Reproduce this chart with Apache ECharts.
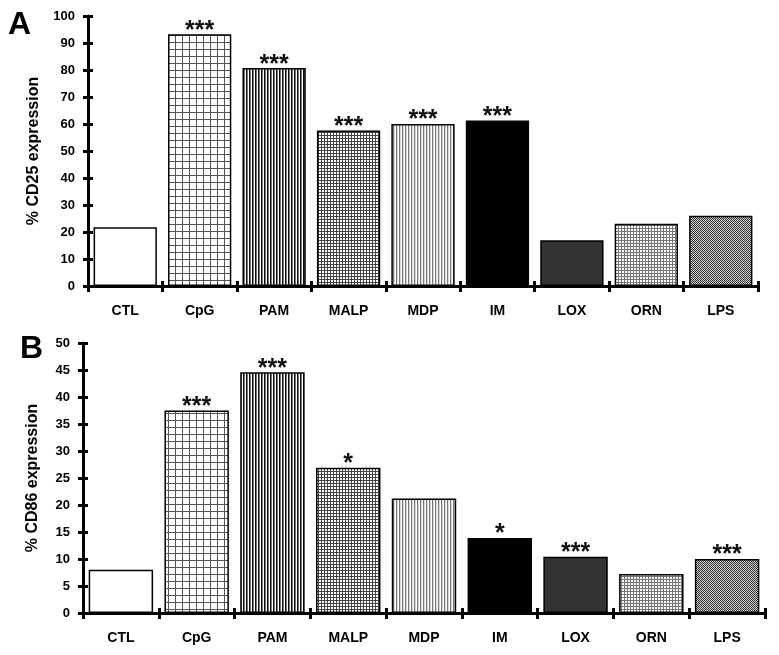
<!DOCTYPE html>
<html>
<head>
<meta charset="utf-8">
<script src="https://cdn.jsdelivr.net/npm/echarts@6/dist/echarts.min.js"></script>
<style>
html,body{margin:0;padding:0;background:#fff;}
#chart{width:779px;height:655px;}
</style>
</head>
<body>
<div id="chart"></div>
<script>
// ---- data ----
const categories = ['CTL', 'CpG', 'PAM', 'MALP', 'MDP', 'IM', 'LOX', 'ORN', 'LPS'];
const cd25Values = [21.8, 93.2, 80.7, 57.6, 60.0, 61.3, 16.9, 23.1, 26.0];
const cd86Values = [8.0, 37.5, 44.6, 26.9, 21.2, 13.9, 10.4, 7.2, 10.0];
const cd25Sig = ['', '***', '***', '***', '***', '***', '', '', ''];
const cd86Sig = ['', '***', '***', '*', '', '*', '***', '', '***'];
const cd25Ticks = { min: 0, max: 100, interval: 10 };
const cd86Ticks = { min: 0, max: 50, interval: 5 };
const panelLetters = ['A', 'B'];
const yNames = ['% CD25 expression', '% CD86 expression'];

// ---- fill patterns (one per category) ----
function pattern(w, h, draw) {
  const c = document.createElement('canvas');
  c.width = w; c.height = h;
  const ctx = c.getContext('2d');
  ctx.fillStyle = '#fff';
  ctx.fillRect(0, 0, w, h);
  draw(ctx);
  return { image: c, repeat: 'repeat' };
}
function px(ctx, x, y, w, h, col) { ctx.fillStyle = col; ctx.fillRect(x, y, w, h); }
const fills = [
  '#ffffff',
  pattern(7, 7, ctx => { px(ctx, 0, 0, 1, 7, '#555'); px(ctx, 0, 0, 7, 1, '#555'); }),
  pattern(3, 3, ctx => { px(ctx, 0, 0, 1, 3, '#111'); px(ctx, 1, 0, 1, 3, '#777'); }),
  pattern(3, 3, ctx => { px(ctx, 0, 0, 1, 3, '#444'); px(ctx, 0, 0, 3, 1, '#444'); }),
  pattern(3, 3, ctx => { px(ctx, 0, 0, 1, 3, '#777'); px(ctx, 1, 0, 1, 3, '#d8d8d8'); }),
  '#000000',
  '#333333',
  pattern(3, 3, ctx => { px(ctx, 0, 0, 1, 3, '#777'); px(ctx, 0, 0, 3, 1, '#777'); }),
  pattern(2, 2, ctx => { px(ctx, 0, 0, 2, 2, '#d0d0d0'); px(ctx, 0, 0, 1, 1, '#333'); px(ctx, 1, 1, 1, 1, '#333'); })
];

const FONT = 'Liberation Sans, Arial, sans-serif';
const grids = [
  { left: 88, top: 16, width: 670, height: 270 },
  { left: 83, top: 343, width: 682, height: 270 }
];
const ticks = [cd25Ticks, cd86Ticks];
const values = [cd25Values, cd86Values];
const sigs = [cd25Sig, cd86Sig];
const nameGaps = [46, 42];
const letterPos = [{ left: 8, top: 9 }, { left: 20, top: 333 }];

const xAxes = [], yAxes = [], series = [], titles = [];
for (let g = 0; g < 2; g++) {
  const axisLine = { show: true, lineStyle: { color: '#000', width: 3 } };
  xAxes.push({
    gridIndex: g, type: 'category', data: categories,
    axisLine: axisLine,
    axisTick: { show: true, alignWithLabel: false, length: 6, lineStyle: { color: '#000', width: 3 } },
    axisLabel: { color: '#000', fontFamily: FONT, fontWeight: 'bold', fontSize: 14, margin: 18 }
  });
  xAxes.push({
    gridIndex: g, type: 'category', data: categories, position: 'bottom',
    axisLine: { show: false },
    axisTick: { show: true, inside: true, length: 5, lineStyle: { color: '#000', width: 3 } },
    axisLabel: { show: false }
  });
  yAxes.push({
    gridIndex: g, type: 'value', min: ticks[g].min, max: ticks[g].max, interval: ticks[g].interval,
    name: yNames[g], nameLocation: 'middle', nameGap: nameGaps[g],
    nameTextStyle: { color: '#000', fontFamily: FONT, fontWeight: 'bold', fontSize: 16 },
    axisLine: axisLine,
    axisTick: { show: true, length: 5, lineStyle: { color: '#000', width: 3 } },
    axisLabel: { color: '#000', fontFamily: FONT, fontWeight: 'bold', fontSize: 13, margin: 13 },
    splitLine: { show: false }
  });
  yAxes.push({
    gridIndex: g, type: 'value', min: ticks[g].min, max: ticks[g].max, interval: ticks[g].interval,
    position: 'left',
    axisLine: { show: false },
    axisTick: { show: true, inside: true, length: 5, lineStyle: { color: '#000', width: 3 } },
    axisLabel: { show: false },
    splitLine: { show: false }
  });
  const sig = sigs[g];
  series.push({
    type: 'bar', xAxisIndex: 2 * g, yAxisIndex: 2 * g,
    barCategoryGap: '15%',
    data: values[g].map((v, i) => ({ value: v, itemStyle: { color: fills[i] } })),
    itemStyle: { borderColor: '#000', borderWidth: 1.5 },
    label: {
      show: true, position: 'top', distance: -9,
      formatter: p => sig[p.dataIndex],
      color: '#111', fontFamily: FONT, fontWeight: 'bold', fontSize: 25
    },
    animation: false, silent: true
  });
  titles.push({
    text: panelLetters[g], left: letterPos[g].left, top: letterPos[g].top, padding: 0,
    textStyle: { color: '#000', fontFamily: FONT, fontWeight: 'bold', fontSize: 32 }
  });
}

const chart = echarts.init(document.getElementById('chart'), null, { renderer: 'canvas' });
chart.setOption({
  backgroundColor: '#fff',
  animation: false,
  title: titles,
  grid: grids,
  xAxis: xAxes,
  yAxis: yAxes,
  series: series
});
</script>
</body>
</html>
